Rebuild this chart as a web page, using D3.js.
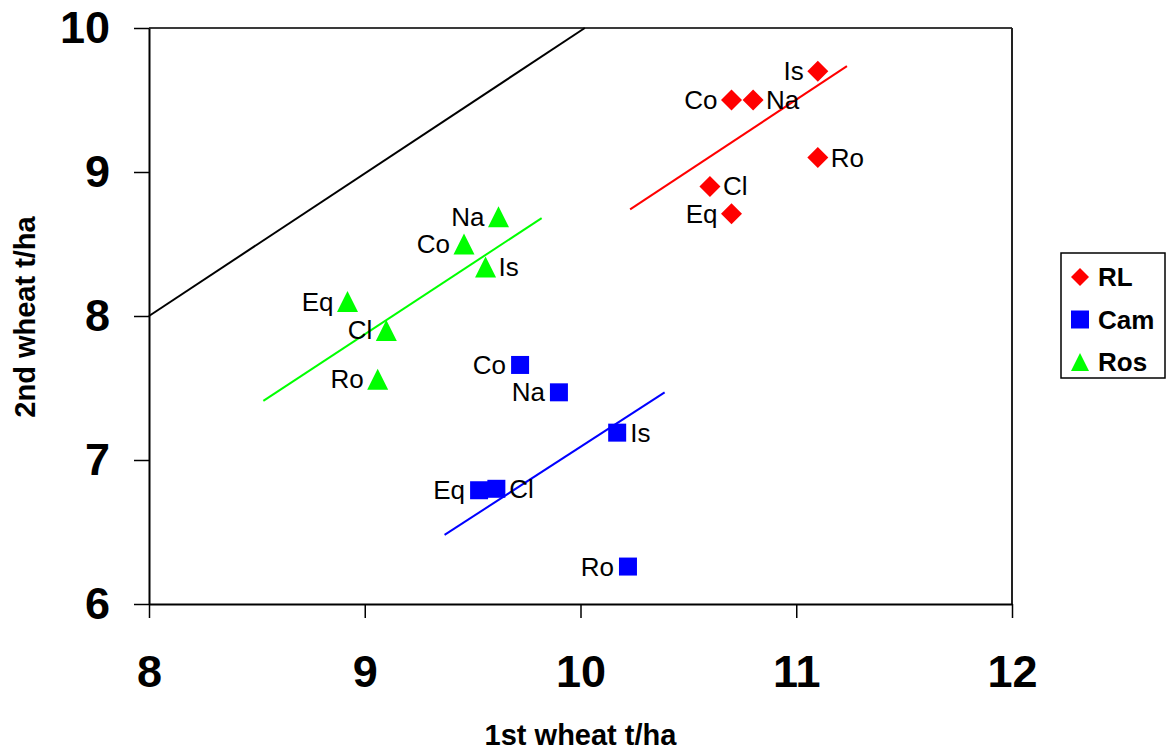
<!DOCTYPE html>
<html>
<head>
<meta charset="utf-8">
<script src="https://cdn.jsdelivr.net/npm/d3@7/dist/d3.min.js"></script>
<style>
  body { margin: 0; background: #fff; }
  svg { font-family: "Liberation Sans", Arial, sans-serif; }
</style>
</head>
<body>
<svg width="1167" height="751"></svg>
<script>
// data
var seriesNames = ["RL", "Cam", "Ros"];
var seriesColors = ["#ff0000", "#0000ff", "#00ff00"];

var rlLabels = ["Is", "Co", "Na", "Ro", "Cl", "Eq"];
var rlX = [11.10, 10.70, 10.80, 11.10, 10.60, 10.70];
var rlY = [9.70, 9.50, 9.50, 9.10, 8.90, 8.71];
var rlSide = ["left", "left", "right", "right", "right", "left"];

var camLabels = ["Co", "Na", "Is", "Eq", "Cl", "Ro"];
var camX = [9.72, 9.90, 10.17, 9.53, 9.61, 10.22];
var camY = [7.66, 7.47, 7.19, 6.79, 6.80, 6.26];
var camSide = ["left", "left", "right", "left", "right", "left"];

var rosLabels = ["Na", "Co", "Is", "Eq", "Cl", "Ro"];
var rosX = [9.62, 9.46, 9.56, 8.92, 9.10, 9.06];
var rosY = [8.69, 8.50, 8.34, 8.10, 7.90, 7.56];
var rosSide = ["left", "left", "right", "left", "left", "left"];

// trend lines (end points)
var rlTrend = [[10.23, 8.74], [11.235, 9.735]];
var camTrend = [[9.37, 6.48], [10.39, 7.47]];
var rosTrend = [[8.53, 7.41], [9.82, 8.68]];
var oneToOne = [[8, 8], [10.02, 10]];

var xTicks = [8, 9, 10, 11, 12];
var yTicks = [6, 7, 8, 9, 10];

var svg = d3.select("svg");

var plotLeft = 149, plotRight = 1012, plotTop = 28, plotBottom = 604;

var x = d3.scaleLinear().domain([8, 12]).range([plotLeft, plotRight]);
var y = d3.scaleLinear().domain([6, 10]).range([plotBottom, plotTop]);

// markers
function diamond(s) {
    var h = s / 2;
    return "M0," + (-h) + "L" + h + ",0L0," + h + "L" + (-h) + ",0Z";
}
function square(s) {
    var h = s / 2;
    return "M" + (-h) + "," + (-h) + "H" + h + "V" + h + "H" + (-h) + "Z";
}
function triangle(s) {
    var h = s / 2;
    return "M0," + (-h) + "L" + h + "," + h + "L" + (-h) + "," + h + "Z";
}

var series = [
    { name: seriesNames[0], color: seriesColors[0], shape: diamond, size: 21,
      labels: rlLabels, xs: rlX, ys: rlY, side: rlSide, trend: rlTrend },
    { name: seriesNames[1], color: seriesColors[1], shape: square, size: 18,
      labels: camLabels, xs: camX, ys: camY, side: camSide, trend: camTrend },
    { name: seriesNames[2], color: seriesColors[2], shape: triangle, size: 21,
      labels: rosLabels, xs: rosX, ys: rosY, side: rosSide, trend: rosTrend }
];

// plot frame (top + right)
svg.append("line")
    .attr("x1", plotLeft).attr("x2", plotRight)
    .attr("y1", plotTop).attr("y2", plotTop)
    .attr("stroke", "#3a3a3a").attr("stroke-width", 2);
svg.append("line")
    .attr("x1", plotRight).attr("x2", plotRight)
    .attr("y1", plotTop).attr("y2", plotBottom)
    .attr("stroke", "#222").attr("stroke-width", 2);

// axes
var xAxis = svg.append("g")
    .attr("transform", "translate(0," + plotBottom + ")")
    .call(d3.axisBottom(x).tickValues(xTicks).tickFormat(d3.format("d"))
        .tickSize(14).tickSizeOuter(0).tickPadding(37));
var yAxis = svg.append("g")
    .attr("transform", "translate(" + plotLeft + ",0)")
    .call(d3.axisLeft(y).tickValues(yTicks).tickFormat(d3.format("d"))
        .tickSize(15).tickSizeOuter(0).tickPadding(24));

[xAxis, yAxis].forEach(function (g) {
    g.select(".domain").attr("stroke", "#000").attr("stroke-width", 2);
    g.selectAll(".tick line").attr("stroke", "#000").attr("stroke-width", 1.5);
    g.selectAll(".tick text")
        .attr("fill", "#000")
        .style("font-family", "'Liberation Sans', Arial, sans-serif")
        .style("font-size", "45px")
        .style("font-weight", "bold");
});

// axis titles
svg.append("text")
    .attr("x", (plotLeft + plotRight) / 2)
    .attr("y", 745)
    .attr("text-anchor", "middle")
    .style("font-size", "29px")
    .style("font-weight", "bold")
    .text("1st wheat t/ha");

svg.append("text")
    .attr("transform", "translate(35," + ((plotTop + plotBottom) / 2 + 1) + ") rotate(-90)")
    .attr("text-anchor", "middle")
    .style("font-size", "29px")
    .style("font-weight", "bold")
    .text("2nd wheat t/ha");

// 1:1 line
var line = d3.line()
    .x(function (d) { return x(d[0]); })
    .y(function (d) { return y(d[1]); });

svg.append("path")
    .attr("d", line(oneToOne))
    .attr("fill", "none")
    .attr("stroke", "#000")
    .attr("stroke-width", 2);

// trend lines
series.forEach(function (s) {
    svg.append("path")
        .attr("d", line(s.trend))
        .attr("fill", "none")
        .attr("stroke", s.color)
        .attr("stroke-width", 2);
});

// points and labels
series.forEach(function (s) {
    var pts = s.labels.map(function (l, i) {
        return { label: l, x: s.xs[i], y: s.ys[i], side: s.side[i] };
    });

    var g = svg.append("g");
    g.selectAll("path")
        .data(pts)
        .enter().append("path")
        .attr("d", s.shape(s.size))
        .attr("transform", function (d) { return "translate(" + x(d.x) + "," + y(d.y) + ")"; })
        .attr("fill", s.color);

    g.selectAll("text")
        .data(pts)
        .enter().append("text")
        .attr("x", function (d) { return x(d.x) + (d.side == "left" ? -14 : 13); })
        .attr("y", function (d) { return y(d.y) + 9; })
        .attr("text-anchor", function (d) { return d.side == "left" ? "end" : "start"; })
        .style("font-size", "26px")
        .attr("fill", "#000")
        .text(function (d) { return d.label; });
});

// LEGEND
var legend = svg.append("g");
legend.append("rect")
    .attr("x", 1061).attr("y", 253)
    .attr("width", 104).attr("height", 125)
    .attr("fill", "#fff")
    .attr("stroke", "#000")
    .attr("stroke-width", 1.5);

series.forEach(function (s, i) {
    var row = legend.append("g")
        .attr("transform", "translate(1080," + (277 + i * 42.5) + ")");
    row.append("path")
        .attr("d", s.shape(18))
        .attr("fill", s.color);
    row.append("text")
        .attr("x", 18)
        .attr("y", 9)
        .style("font-size", "26px")
        .style("font-weight", "bold")
        .text(s.name);
});
</script>
</body>
</html>
